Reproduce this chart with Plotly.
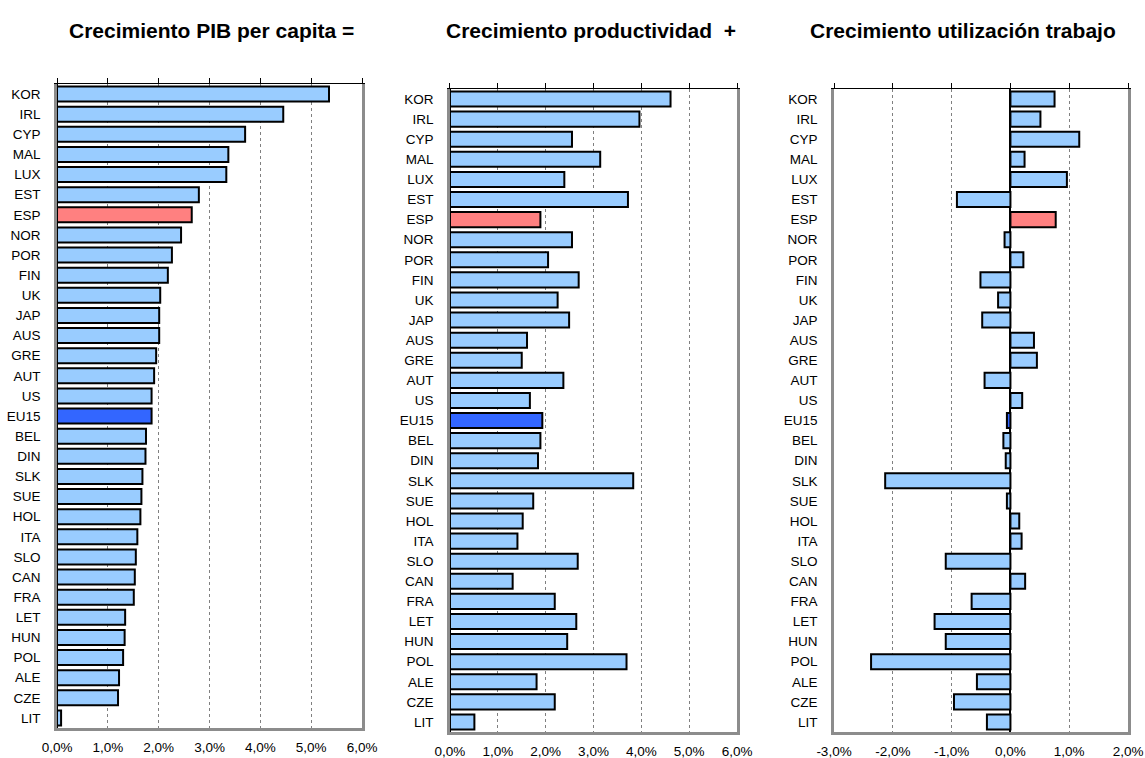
import plotly.graph_objects as go

# Países (orden de la clasificación por crecimiento del PIB per cápita)
paises = ["KOR", "IRL", "CYP", "MAL", "LUX", "EST", "ESP", "NOR", "POR", "FIN",
          "UK", "JAP", "AUS", "GRE", "AUT", "US", "EU15", "BEL", "DIN", "SLK",
          "SUE", "HOL", "ITA", "SLO", "CAN", "FRA", "LET", "HUN", "POL", "ALE",
          "CZE", "LIT"]

# Crecimiento medio anual, en %
pib_per_capita = [5.35, 4.45, 3.70, 3.37, 3.33, 2.79, 2.65, 2.44, 2.26, 2.18,
                  2.03, 2.01, 2.01, 1.95, 1.91, 1.86, 1.86, 1.75, 1.74, 1.68,
                  1.66, 1.64, 1.58, 1.55, 1.53, 1.51, 1.34, 1.33, 1.30, 1.22,
                  1.20, 0.08]
productividad = [4.61, 3.96, 2.55, 3.14, 2.39, 3.72, 1.89, 2.55, 2.05, 2.69,
                 2.25, 2.49, 1.61, 1.50, 2.37, 1.67, 1.93, 1.89, 1.84, 3.83,
                 1.74, 1.52, 1.41, 2.67, 1.31, 2.19, 2.64, 2.45, 3.69, 1.81,
                 2.19, 0.51]
utilizacion_trabajo = [0.75, 0.51, 1.17, 0.24, 0.96, -0.91, 0.77, -0.10, 0.22, -0.51,
                       -0.21, -0.48, 0.40, 0.45, -0.44, 0.20, -0.06, -0.12, -0.08, -2.13,
                       -0.06, 0.15, 0.19, -1.10, 0.25, -0.66, -1.29, -1.10, -2.37, -0.57,
                       -0.96, -0.40]

titulos = ["Crecimiento PIB per capita =", "Crecimiento productividad  +",
           "Crecimiento utilización trabajo"]

# Graduaciones del eje de valores de cada panel
ticks_pos = [0, 1, 2, 3, 4, 5, 6]
ticks_txt = ["0,0%", "1,0%", "2,0%", "3,0%", "4,0%", "5,0%", "6,0%"]
ticks_pos_util = [-3, -2, -1, 0, 1, 2]
ticks_txt_util = ["-3,0%", "-2,0%", "-1,0%", "0,0%", "1,0%", "2,0%"]

graduaciones = [(ticks_pos, ticks_txt), (ticks_pos, ticks_txt),
                (ticks_pos_util, ticks_txt_util)]

AZUL_CLARO = "#99CCFF"
color_especial = {"ESP": "#FF8080", "EU15": "#3366FF"}
colores = [color_especial.get(p, AZUL_CLARO) for p in paises]

FUENTE = "Liberation Sans, Arial, sans-serif"

# Posición de cada panel (fracciones de la figura)
dominios_x = [[0.0498, 0.3162], [0.3930, 0.6437], [0.7284, 0.9852]]
dominios_y = [[0.0396, 0.8892], [0.0343, 0.8826], [0.0343, 0.8826]]
centros_titulo = [0.1847, 0.5162, 0.8410]

fig = go.Figure()
layout = dict(
    width=1145, height=758,
    margin=dict(l=0, r=0, t=0, b=0, autoexpand=False),
    paper_bgcolor="white", plot_bgcolor="white",
    showlegend=False,
    font=dict(family=FUENTE, size=13, color="black"),
    bargap=0.25,
    annotations=[],
)

series = [pib_per_capita, productividad, utilizacion_trabajo]
for i, valores in enumerate(series):
    n = i + 1
    sx = "" if n == 1 else str(n)
    tv, tt = graduaciones[i]
    rango = [tv[0], tv[-1]]
    fig.add_trace(go.Bar(
        x=valores, y=paises, orientation="h",
        marker=dict(color=colores, line=dict(color="black", width=2)),
        xaxis="x" + sx, yaxis="y" + sx, hoverinfo="x+y",
    ))
    # eje superior con marcas de graduación
    top = str(n + 3)
    fig.add_trace(go.Scatter(x=[], y=[], xaxis="x" + top, yaxis="y" + sx,
                             hoverinfo="skip", showlegend=False))

    layout["xaxis" + sx] = dict(
        domain=dominios_x[i], anchor="y" + sx, range=rango,
        tickmode="array", tickvals=tv, ticktext=tt,
        ticks="", ticklabelstandoff=5, automargin=False,
        tickfont=dict(size=13.5, color="black"),
        showgrid=True, gridcolor="#808080", griddash="dot", gridwidth=1,
        zeroline=True, zerolinecolor="black", zerolinewidth=1.5,
        showline=True, linecolor="#8c8c8c", linewidth=2.5,
        fixedrange=True,
    )
    layout["xaxis" + top] = dict(
        overlaying="x" + sx, anchor="y" + sx, side="top", range=rango,
        tickmode="array", tickvals=tv, ticks="outside", ticklen=5,
        tickwidth=1, tickcolor="black", showticklabels=False,
        showgrid=False, zeroline=False, automargin=False,
        showline=True, linecolor="black", linewidth=1.2,
        fixedrange=True,
    )
    layout["yaxis" + sx] = dict(
        domain=dominios_y[i], anchor="x" + sx, type="category",
        categoryorder="array", categoryarray=paises, autorange="reversed",
        ticks="", ticklabelstandoff=11, automargin=False,
        tickfont=dict(size=13.5, color="black"),
        showgrid=False, zeroline=False,
        showline=True, mirror=True, linecolor="#8c8c8c", linewidth=2.5,
        fixedrange=True,
    )
    layout["annotations"].append(dict(
        text="<b>" + titulos[i] + "</b>", x=centros_titulo[i], y=0.9604,
        xref="paper", yref="paper", xanchor="center", yanchor="middle",
        showarrow=False, font=dict(family=FUENTE, size=21, color="black"),
    ))

fig.update_layout(**layout)
fig.write_html("out.html")
